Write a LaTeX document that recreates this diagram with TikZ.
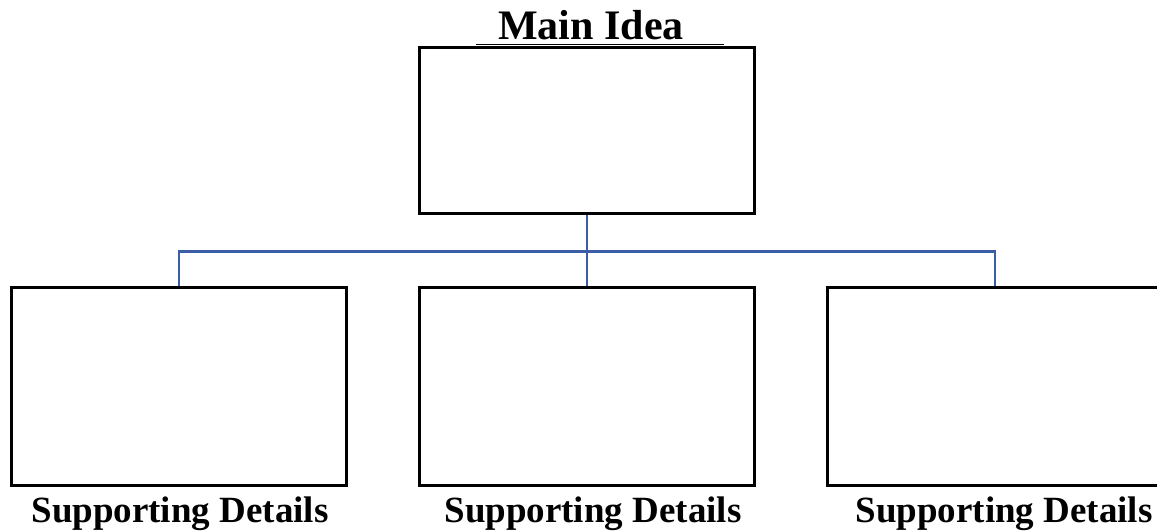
\documentclass[tikz,border=0pt]{standalone}
\usepackage{fontspec}
\setmainfont{Liberation Serif}
\usepackage{xcolor}
\definecolor{linkblue}{RGB}{59,93,165}

\begin{document}
\begin{tikzpicture}[
      x=1pt, y=1pt,
      level distance=256pt, sibling distance=408pt,
      idea/.style = {shape=rectangle, draw, line width=3pt, minimum width=335pt, minimum height=166pt},
      detail/.style = {shape=rectangle, draw, line width=3pt, minimum width=335pt, minimum height=198pt},
      heading/.style = {font=\fontsize{42}{48}\selectfont\bfseries, inner sep=0pt},
      caption/.style = {font=\fontsize{37}{44}\selectfont\bfseries, inner sep=0pt},
      edge from parent/.style = {draw, color=linkblue, line width=2.6pt},
      edge from parent path = {(\tikzparentnode.south) -- ++(0,-36) -| (\tikzchildnode.north)}
    ]
      \useasboundingbox (0,0) rectangle (1157,532);
      \node[idea, label={[heading, name=title, label distance=6pt, xshift=4pt]above:Main Idea}] (idea) at (587,401) {}
        child {
          node[detail, label={[caption, label distance=9pt, xshift=1pt]below:Supporting Details}] (left) {}
        }
        child {
          node[detail, label={[caption, label distance=9pt, xshift=6pt]below:Supporting Details}] (middle) {}
        }
        child {
          node[detail, label={[caption, label distance=9pt, xshift=9pt]below:Supporting Details}] (right) {}
        };
      % blank line under the heading
      \draw[line width=1.4pt] ([xshift=-22pt, yshift=-4pt]title.south west) -- ([xshift=40pt, yshift=-4pt]title.south east);
    \end{tikzpicture}
\end{document}
